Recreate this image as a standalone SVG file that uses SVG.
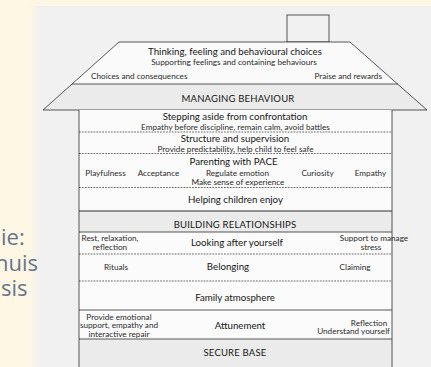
<svg xmlns="http://www.w3.org/2000/svg" width="431" height="367" viewBox="0 0 431 367">
  <defs>
    <style>
      .ln{stroke:#2e2e2e;stroke-width:0.8;fill:none}
      .dash{stroke:#2e2e2e;stroke-width:0.7;stroke-dasharray:1.8 1.1;fill:none}
      .h{font-family:Lato,"Liberation Sans",sans-serif;font-size:9.7px;fill:#161616;text-anchor:middle}
      .s{font-family:Lato,"Liberation Sans",sans-serif;font-size:8.2px;fill:#2a2a2a;text-anchor:middle}
      .c{font-family:Lato,"Liberation Sans",sans-serif;font-size:9.5px;fill:#161616;text-anchor:middle;letter-spacing:0.2px}
      .band{fill:#ebebeb}
      .side{font-family:"Open Sans","Noto Sans",sans-serif;font-size:22px;fill:#66758c}
    </style>
    <linearGradient id="edge" x1="0" y1="0" x2="1" y2="0">
      <stop offset="0" stop-color="#fbf6e6"/>
      <stop offset="1" stop-color="#f0f0f0"/>
    </linearGradient>
  </defs>

  <!-- slide background -->
  <rect x="0" y="0" width="431" height="367" fill="#fdf7e4"/>
  <!-- scanned page -->
  <rect x="33" y="6" width="398" height="361" fill="#f1f1f1"/>
  <rect x="30" y="6" width="10" height="361" fill="url(#edge)"/>

  <g id="side-text">
    <text class="side"><tspan x="1" y="245">ie:</tspan><tspan x="-5" y="271">huis</tspan><tspan x="1" y="296">sis</tspan></text>
  </g>

  <!-- chimney -->
  <g id="chimney">
    <rect x="287" y="15" width="42" height="27" fill="#f8f8f8" class="ln"/>
  </g>

  <!-- roof -->
  <g id="roof">
    <polygon points="119,42 350,42 427,110 43,110" fill="#fafafa"/>
    <polygon points="72,84 398,84 427,110 43,110" class="band"/>
    <polygon points="119,42 350,42 427,110 43,110" class="ln"/>
    <line x1="72" y1="84" x2="398" y2="84" class="ln"/>
    <text class="h" x="235" y="55">Thinking, feeling and behavioural choices</text>
    <text class="s" x="234" y="64.5">Supporting feelings and containing behaviours</text>
    <text class="s" x="91" y="79" style="text-anchor:start">Choices and consequences</text>
    <text class="s" x="382" y="79" style="text-anchor:end">Praise and rewards</text>
  </g>

  <g id="managing-behaviour">
    <text class="c" x="238" y="101.5">MANAGING BEHAVIOUR</text>
  </g>

  <!-- house body -->
  <g id="house">
    <rect x="79" y="110" width="313" height="257" fill="#fbfbfb"/>
    <rect x="79" y="211" width="313" height="21" class="band"/>
    <rect x="79" y="339" width="313" height="28" class="band"/>
    <line x1="79" y1="110" x2="79" y2="367" class="ln"/>
    <line x1="392" y1="110" x2="392" y2="367" class="ln"/>
  </g>

  <g id="dividers">
    <line x1="79" y1="132" x2="392" y2="132" class="dash"/>
    <line x1="79" y1="153.5" x2="392" y2="153.5" class="dash"/>
    <line x1="79" y1="187.5" x2="392" y2="187.5" class="dash"/>
    <line x1="79" y1="211" x2="392" y2="211" class="ln" style="stroke-width:1.2"/>
    <line x1="79" y1="232" x2="392" y2="232" class="ln"/>
    <line x1="79" y1="254" x2="392" y2="254" class="dash"/>
    <line x1="79" y1="281" x2="392" y2="281" class="dash"/>
    <line x1="79" y1="310" x2="392" y2="310" class="ln"/>
    <line x1="79" y1="339" x2="392" y2="339" class="ln"/>
  </g>

  <g id="stepping-aside">
    <text class="h" x="235" y="119.5">Stepping aside from confrontation</text>
    <text class="s" x="235.5" y="129.5">Empathy before discipline, remain calm, avoid battles</text>
  </g>

  <g id="structure-supervision">
    <text class="h" x="235" y="141.5">Structure and supervision</text>
    <text class="s" x="235.5" y="151.5">Provide predictability, help child to feel safe</text>
  </g>

  <g id="parenting-pace">
    <text class="h" x="233.5" y="164.5">Parenting with PACE</text>
    <text class="s" x="105.5" y="175.5">Playfulness</text>
    <text class="s" x="158.5" y="175.5">Acceptance</text>
    <text class="s" x="237.5" y="175.5">Regulate emotion</text>
    <text class="s" x="317.5" y="175.5">Curiosity</text>
    <text class="s" x="370.5" y="175.5">Empathy</text>
    <text class="s" x="238" y="185">Make sense of experience</text>
  </g>

  <g id="helping-children-enjoy">
    <text class="h" x="235.5" y="203">Helping children enjoy</text>
  </g>

  <g id="building-relationships">
    <text class="c" x="235" y="228">BUILDING RELATIONSHIPS</text>
  </g>

  <g id="looking-after-yourself">
    <text class="s"><tspan x="110" y="240.5">Rest, relaxation,</tspan><tspan x="110" y="249.5">reflection</tspan></text>
    <text class="h" x="237" y="245.5">Looking after yourself</text>
    <text class="s"><tspan x="374" y="240.5">Support to manage</tspan><tspan x="371" y="249.5">stress</tspan></text>
  </g>

  <g id="belonging">
    <text class="s" x="116" y="269.5">Rituals</text>
    <text class="h" x="228" y="270">Belonging</text>
    <text class="s" x="355" y="269.5">Claiming</text>
  </g>

  <g id="family-atmosphere">
    <text class="h" x="235" y="301">Family atmosphere</text>
  </g>

  <g id="attunement">
    <text class="s"><tspan x="119" y="319.5">Provide emotional</tspan><tspan x="119" y="328">support, empathy and</tspan><tspan x="119" y="336.5">interactive repair</tspan></text>
    <text class="h" x="240" y="329">Attunement</text>
    <text class="s"><tspan x="369" y="325.5">Reflection</tspan><tspan x="390" y="333.5" style="text-anchor:end">Understand yourself</tspan></text>
  </g>

  <g id="secure-base">
    <text class="c" x="235" y="355.5">SECURE BASE</text>
  </g>
</svg>
